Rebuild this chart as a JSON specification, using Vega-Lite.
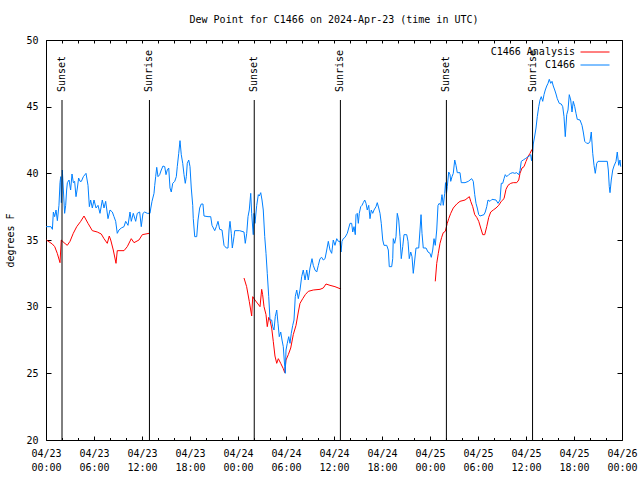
{
  "$schema": "https://vega.github.io/schema/vega-lite/v6.json",
  "width": 576,
  "height": 400,
  "autosize": {"type": "none"},
  "padding": {"left": 46, "top": 40, "right": 18, "bottom": 40},
  "title": {"text": "Dew Point for C1466 on 2024-Apr-23 (time in UTC)", "anchor": "middle", "offset": 2, "baseline": "alphabetic"},
  "resolve": {"axis": {"x": "independent", "y": "independent"}},
  "layer": [
    {
      "data": {"values": [
        {"seg":1,"hour":0.05,"dewpoint":35.0},{"seg":1,"hour":0.79,"dewpoint":34.7},{"seg":1,"hour":1.09,"dewpoint":34.5},{"seg":1,"hour":1.41,"dewpoint":34.0},{"seg":1,"hour":1.75,"dewpoint":33.3},{"seg":1,"hour":1.91,"dewpoint":35.0},{"seg":1,"hour":2.25,"dewpoint":34.8},{"seg":1,"hour":2.66,"dewpoint":34.6},{"seg":1,"hour":3.0,"dewpoint":34.9},{"seg":1,"hour":3.41,"dewpoint":35.5},{"seg":1,"hour":3.84,"dewpoint":36.0},{"seg":1,"hour":4.34,"dewpoint":36.4},{"seg":1,"hour":4.75,"dewpoint":36.8},{"seg":1,"hour":5.25,"dewpoint":36.25},{"seg":1,"hour":5.79,"dewpoint":35.7},{"seg":1,"hour":6.41,"dewpoint":35.6},{"seg":1,"hour":6.91,"dewpoint":35.45},{"seg":1,"hour":7.25,"dewpoint":35.1},{"seg":1,"hour":7.66,"dewpoint":34.75},{"seg":1,"hour":7.91,"dewpoint":35.3},{"seg":1,"hour":8.09,"dewpoint":35.0},{"seg":1,"hour":8.41,"dewpoint":34.25},{"seg":1,"hour":8.75,"dewpoint":33.25},{"seg":1,"hour":8.91,"dewpoint":34.2},{"seg":1,"hour":9.75,"dewpoint":34.2},{"seg":1,"hour":10.16,"dewpoint":34.5},{"seg":1,"hour":10.66,"dewpoint":35.1},{"seg":1,"hour":11.0,"dewpoint":34.8},{"seg":1,"hour":11.62,"dewpoint":35.0},{"seg":1,"hour":12.04,"dewpoint":35.4},{"seg":1,"hour":12.88,"dewpoint":35.5},
        {"seg":2,"hour":24.75,"dewpoint":32.15},{"seg":2,"hour":25.08,"dewpoint":31.5},{"seg":2,"hour":25.41,"dewpoint":30.4},{"seg":2,"hour":25.71,"dewpoint":29.3},{"seg":2,"hour":25.84,"dewpoint":30.75},{"seg":2,"hour":26.12,"dewpoint":30.5},{"seg":2,"hour":26.5,"dewpoint":30.2},{"seg":2,"hour":26.75,"dewpoint":30.0},{"seg":2,"hour":26.96,"dewpoint":31.3},{"seg":2,"hour":27.08,"dewpoint":30.9},{"seg":2,"hour":27.25,"dewpoint":30.0},{"seg":2,"hour":27.5,"dewpoint":29.4},{"seg":2,"hour":27.66,"dewpoint":28.5},{"seg":2,"hour":27.84,"dewpoint":29.2},{"seg":2,"hour":28.0,"dewpoint":29.0},{"seg":2,"hour":28.21,"dewpoint":28.4},{"seg":2,"hour":28.41,"dewpoint":27.4},{"seg":2,"hour":28.62,"dewpoint":26.3},{"seg":2,"hour":28.84,"dewpoint":25.75},{"seg":2,"hour":29.04,"dewpoint":26.1},{"seg":2,"hour":29.34,"dewpoint":25.75},{"seg":2,"hour":29.66,"dewpoint":25.35},{"seg":2,"hour":29.84,"dewpoint":25.05},{"seg":2,"hour":30.0,"dewpoint":26.0},{"seg":2,"hour":30.29,"dewpoint":26.4},{"seg":2,"hour":30.59,"dewpoint":26.9},{"seg":2,"hour":30.91,"dewpoint":27.9},{"seg":2,"hour":31.25,"dewpoint":28.6},{"seg":2,"hour":31.54,"dewpoint":29.6},{"seg":2,"hour":31.75,"dewpoint":30.25},{"seg":2,"hour":32.09,"dewpoint":30.6},{"seg":2,"hour":32.41,"dewpoint":30.9},{"seg":2,"hour":32.79,"dewpoint":31.15},{"seg":2,"hour":33.41,"dewpoint":31.25},{"seg":2,"hour":34.25,"dewpoint":31.3},{"seg":2,"hour":34.66,"dewpoint":31.4},{"seg":2,"hour":35.0,"dewpoint":31.7},{"seg":2,"hour":35.5,"dewpoint":31.6},{"seg":2,"hour":36.12,"dewpoint":31.5},{"seg":2,"hour":36.75,"dewpoint":31.35},{"seg":2,"hour":36.88,"dewpoint":31.35},
        {"seg":3,"hour":48.66,"dewpoint":31.9},{"seg":3,"hour":48.84,"dewpoint":33.25},{"seg":3,"hour":49.04,"dewpoint":34.0},{"seg":3,"hour":49.25,"dewpoint":34.75},{"seg":3,"hour":49.46,"dewpoint":35.2},{"seg":3,"hour":49.66,"dewpoint":35.55},{"seg":3,"hour":49.91,"dewpoint":35.65},{"seg":3,"hour":50.16,"dewpoint":36.25},{"seg":3,"hour":50.34,"dewpoint":36.6},{"seg":3,"hour":50.59,"dewpoint":37.0},{"seg":3,"hour":50.91,"dewpoint":37.4},{"seg":3,"hour":51.34,"dewpoint":37.7},{"seg":3,"hour":51.75,"dewpoint":37.9},{"seg":3,"hour":52.38,"dewpoint":38.0},{"seg":3,"hour":52.92,"dewpoint":38.25},{"seg":3,"hour":53.09,"dewpoint":37.9},{"seg":3,"hour":53.34,"dewpoint":37.5},{"seg":3,"hour":53.59,"dewpoint":36.9},{"seg":3,"hour":53.84,"dewpoint":36.7},{"seg":3,"hour":54.09,"dewpoint":36.4},{"seg":3,"hour":54.34,"dewpoint":35.9},{"seg":3,"hour":54.59,"dewpoint":35.4},{"seg":3,"hour":54.84,"dewpoint":35.4},{"seg":3,"hour":55.09,"dewpoint":36.0},{"seg":3,"hour":55.34,"dewpoint":36.7},{"seg":3,"hour":55.59,"dewpoint":37.1},{"seg":3,"hour":55.91,"dewpoint":37.25},{"seg":3,"hour":56.25,"dewpoint":37.4},{"seg":3,"hour":56.59,"dewpoint":37.6},{"seg":3,"hour":56.91,"dewpoint":37.9},{"seg":3,"hour":57.25,"dewpoint":38.1},{"seg":3,"hour":57.5,"dewpoint":38.8},{"seg":3,"hour":57.75,"dewpoint":39.1},{"seg":3,"hour":58.09,"dewpoint":39.25},{"seg":3,"hour":58.41,"dewpoint":39.3},{"seg":3,"hour":58.84,"dewpoint":39.3},{"seg":3,"hour":59.09,"dewpoint":39.5},{"seg":3,"hour":59.25,"dewpoint":40.0},{"seg":3,"hour":59.5,"dewpoint":40.4},{"seg":3,"hour":59.75,"dewpoint":40.5},{"seg":3,"hour":60.0,"dewpoint":40.9},{"seg":3,"hour":60.25,"dewpoint":41.25},{"seg":3,"hour":60.5,"dewpoint":41.5},{"seg":3,"hour":60.75,"dewpoint":41.8}
      ]},
      "mark": {"type": "line", "strokeWidth": 1, "clip": true},
      "encoding": {
        "x": {"field": "hour", "type": "quantitative", "scale": {"domain": [0, 72], "nice": false, "zero": false},
              "axis": {"orient": "bottom", "title": null, "values": [0,6,12,18,24,30,36,42,48,54,60,66,72], "tickSize": -4,
                       "labelExpr": "['04/' + (23 + floor(datum.value / 24)), (datum.value % 24 < 10 ? '0' : '') + (datum.value % 24) + ':00']",
                       "labelLineHeight": 14, "labelPadding": 12, "labelBaseline": "top", "labelFlush": false, "labelOverlap": false}},
        "y": {"field": "dewpoint", "type": "quantitative", "scale": {"domain": [20, 50], "nice": false, "zero": false},
              "axis": {"orient": "left", "title": "degrees F", "values": [20,25,30,35,40,45,50], "tickSize": -5, "labelPadding": 13,
                       "titleX": -36, "titleY": 200, "titleAlign": "center", "titleBaseline": "middle", "titleAngle": -90}},
        "color": {"datum": "C1466 Analysis", "type": "nominal", "scale": {"domain": ["C1466 Analysis", "C1466"], "range": ["#ff0000", "#0080ff"]}, "legend": {"title": null}},
        "detail": {"field": "seg", "type": "nominal"}
      }
    },
    {
      "data": {"values": [
        {"hour":0,"dewpoint":36.0},{"hour":0.62,"dewpoint":36.0},{"hour":0.8,"dewpoint":35.8},{"hour":0.92,"dewpoint":37.1},{"hour":1.08,"dewpoint":36.75},{"hour":1.25,"dewpoint":37.25},{"hour":1.42,"dewpoint":36.45},{"hour":1.62,"dewpoint":37.6},{"hour":1.75,"dewpoint":39.3},{"hour":1.84,"dewpoint":39.75},{"hour":1.92,"dewpoint":37.8},{"hour":2.04,"dewpoint":40.25},{"hour":2.17,"dewpoint":38.75},{"hour":2.33,"dewpoint":37.0},{"hour":2.46,"dewpoint":37.6},{"hour":2.58,"dewpoint":38.75},{"hour":2.67,"dewpoint":39.3},{"hour":2.88,"dewpoint":39.5},{"hour":3.08,"dewpoint":38.75},{"hour":3.25,"dewpoint":39.95},{"hour":3.42,"dewpoint":39.3},{"hour":3.58,"dewpoint":39.4},{"hour":3.75,"dewpoint":38.25},{"hour":3.92,"dewpoint":38.9},{"hour":4.08,"dewpoint":39.65},{"hour":4.25,"dewpoint":39.4},{"hour":4.42,"dewpoint":39.4},{"hour":4.67,"dewpoint":39.75},{"hour":5.0,"dewpoint":40.0},{"hour":5.25,"dewpoint":39.1},{"hour":5.42,"dewpoint":37.5},{"hour":5.58,"dewpoint":38.0},{"hour":5.79,"dewpoint":37.4},{"hour":6.0,"dewpoint":38.0},{"hour":6.25,"dewpoint":37.4},{"hour":6.5,"dewpoint":37.6},{"hour":6.75,"dewpoint":37.0},{"hour":7.04,"dewpoint":38.0},{"hour":7.25,"dewpoint":37.4},{"hour":7.46,"dewpoint":37.9},{"hour":7.75,"dewpoint":36.6},{"hour":8.0,"dewpoint":37.25},{"hour":8.29,"dewpoint":37.1},{"hour":8.5,"dewpoint":36.75},{"hour":8.71,"dewpoint":36.4},{"hour":8.91,"dewpoint":35.5},{"hour":9.12,"dewpoint":35.75},{"hour":9.41,"dewpoint":35.9},{"hour":9.75,"dewpoint":36.0},{"hour":9.96,"dewpoint":36.4},{"hour":10.25,"dewpoint":36.1},{"hour":10.5,"dewpoint":37.1},{"hour":10.66,"dewpoint":36.4},{"hour":10.91,"dewpoint":37.0},{"hour":11.21,"dewpoint":36.4},{"hour":11.41,"dewpoint":37.0},{"hour":11.71,"dewpoint":37.1},{"hour":11.91,"dewpoint":36.0},{"hour":12.12,"dewpoint":37.0},{"hour":12.34,"dewpoint":37.1},{"hour":12.66,"dewpoint":37.0},{"hour":13.0,"dewpoint":37.0},{"hour":13.1,"dewpoint":37.4},{"hour":13.25,"dewpoint":37.9},{"hour":13.5,"dewpoint":38.5},{"hour":13.59,"dewpoint":39.1},{"hour":13.71,"dewpoint":39.75},{"hour":13.84,"dewpoint":40.45},{"hour":14.0,"dewpoint":39.75},{"hour":14.21,"dewpoint":39.9},{"hour":14.41,"dewpoint":40.25},{"hour":14.62,"dewpoint":40.55},{"hour":14.84,"dewpoint":40.5},{"hour":15.0,"dewpoint":39.9},{"hour":15.16,"dewpoint":40.25},{"hour":15.34,"dewpoint":40.4},{"hour":15.5,"dewpoint":38.9},{"hour":15.66,"dewpoint":38.6},{"hour":15.84,"dewpoint":39.25},{"hour":16.09,"dewpoint":39.4},{"hour":16.29,"dewpoint":39.75},{"hour":16.41,"dewpoint":40.5},{"hour":16.59,"dewpoint":41.5},{"hour":16.75,"dewpoint":42.45},{"hour":16.91,"dewpoint":41.4},{"hour":17.09,"dewpoint":40.75},{"hour":17.25,"dewpoint":39.9},{"hour":17.41,"dewpoint":39.25},{"hour":17.54,"dewpoint":39.75},{"hour":17.66,"dewpoint":40.75},{"hour":17.84,"dewpoint":41.0},{"hour":18.0,"dewpoint":40.5},{"hour":18.16,"dewpoint":38.9},{"hour":18.34,"dewpoint":37.6},{"hour":18.41,"dewpoint":36.6},{"hour":18.59,"dewpoint":35.25},{"hour":18.84,"dewpoint":35.25},{"hour":19.0,"dewpoint":36.5},{"hour":19.21,"dewpoint":37.4},{"hour":19.41,"dewpoint":37.7},{"hour":19.62,"dewpoint":37.7},{"hour":19.75,"dewpoint":36.8},{"hour":20.25,"dewpoint":36.75},{"hour":20.59,"dewpoint":36.75},{"hour":20.75,"dewpoint":36.1},{"hour":21.09,"dewpoint":35.7},{"hour":21.29,"dewpoint":36.0},{"hour":21.5,"dewpoint":36.4},{"hour":21.71,"dewpoint":35.8},{"hour":22.0,"dewpoint":35.75},{"hour":22.25,"dewpoint":34.6},{"hour":22.54,"dewpoint":34.4},{"hour":22.75,"dewpoint":34.4},{"hour":22.88,"dewpoint":35.75},{"hour":23.0,"dewpoint":36.4},{"hour":23.16,"dewpoint":35.5},{"hour":23.29,"dewpoint":34.4},{"hour":23.5,"dewpoint":35.25},{"hour":23.59,"dewpoint":35.7},{"hour":24.21,"dewpoint":35.7},{"hour":24.75,"dewpoint":35.6},{"hour":24.91,"dewpoint":34.75},{"hour":25.09,"dewpoint":35.5},{"hour":25.25,"dewpoint":36.75},{"hour":25.41,"dewpoint":37.25},{"hour":25.59,"dewpoint":38.5},{"hour":25.71,"dewpoint":37.0},{"hour":25.84,"dewpoint":35.9},{"hour":25.91,"dewpoint":35.4},{"hour":26.0,"dewpoint":37.0},{"hour":26.12,"dewpoint":36.25},{"hour":26.34,"dewpoint":37.6},{"hour":26.54,"dewpoint":38.4},{"hour":26.66,"dewpoint":38.3},{"hour":26.84,"dewpoint":38.55},{"hour":27.0,"dewpoint":38.0},{"hour":27.16,"dewpoint":37.25},{"hour":27.34,"dewpoint":35.25},{"hour":27.5,"dewpoint":34.0},{"hour":27.66,"dewpoint":32.5},{"hour":27.84,"dewpoint":30.75},{"hour":28.0,"dewpoint":29.0},{"hour":28.21,"dewpoint":29.0},{"hour":28.34,"dewpoint":28.5},{"hour":28.5,"dewpoint":28.25},{"hour":28.66,"dewpoint":29.25},{"hour":28.84,"dewpoint":29.75},{"hour":29.0,"dewpoint":28.75},{"hour":29.16,"dewpoint":27.75},{"hour":29.34,"dewpoint":28.1},{"hour":29.5,"dewpoint":27.5},{"hour":29.66,"dewpoint":27.0},{"hour":29.84,"dewpoint":25.5},{"hour":29.91,"dewpoint":25.0},{"hour":30.0,"dewpoint":26.75},{"hour":30.16,"dewpoint":27.25},{"hour":30.34,"dewpoint":27.75},{"hour":30.5,"dewpoint":27.25},{"hour":30.66,"dewpoint":28.0},{"hour":30.84,"dewpoint":28.6},{"hour":31.0,"dewpoint":29.0},{"hour":31.16,"dewpoint":30.75},{"hour":31.34,"dewpoint":31.25},{"hour":31.54,"dewpoint":30.6},{"hour":31.75,"dewpoint":31.25},{"hour":31.96,"dewpoint":32.25},{"hour":32.16,"dewpoint":32.75},{"hour":32.38,"dewpoint":32.0},{"hour":32.59,"dewpoint":32.75},{"hour":32.79,"dewpoint":32.0},{"hour":33.0,"dewpoint":32.9},{"hour":33.25,"dewpoint":33.6},{"hour":33.41,"dewpoint":33.1},{"hour":33.62,"dewpoint":32.75},{"hour":33.84,"dewpoint":32.6},{"hour":34.04,"dewpoint":33.1},{"hour":34.25,"dewpoint":33.6},{"hour":34.46,"dewpoint":33.7},{"hour":34.66,"dewpoint":33.5},{"hour":34.88,"dewpoint":33.6},{"hour":35.09,"dewpoint":34.25},{"hour":35.29,"dewpoint":34.9},{"hour":35.5,"dewpoint":34.25},{"hour":35.71,"dewpoint":34.0},{"hour":35.91,"dewpoint":35.0},{"hour":36.12,"dewpoint":34.6},{"hour":36.34,"dewpoint":35.1},{"hour":36.54,"dewpoint":34.9},{"hour":36.75,"dewpoint":34.9},{"hour":36.88,"dewpoint":34.1},{"hour":37.0,"dewpoint":34.9},{"hour":37.16,"dewpoint":35.1},{"hour":37.38,"dewpoint":35.2},{"hour":37.66,"dewpoint":35.5},{"hour":37.84,"dewpoint":35.9},{"hour":38.0,"dewpoint":36.25},{"hour":38.21,"dewpoint":36.25},{"hour":38.34,"dewpoint":35.6},{"hour":38.5,"dewpoint":36.0},{"hour":38.66,"dewpoint":35.4},{"hour":38.75,"dewpoint":36.9},{"hour":38.91,"dewpoint":37.0},{"hour":39.04,"dewpoint":36.25},{"hour":39.16,"dewpoint":37.0},{"hour":39.34,"dewpoint":37.5},{"hour":39.5,"dewpoint":37.6},{"hour":39.66,"dewpoint":37.8},{"hour":39.84,"dewpoint":38.0},{"hour":40.0,"dewpoint":37.75},{"hour":40.16,"dewpoint":37.25},{"hour":40.34,"dewpoint":37.6},{"hour":40.5,"dewpoint":36.6},{"hour":40.66,"dewpoint":37.25},{"hour":40.84,"dewpoint":37.0},{"hour":41.0,"dewpoint":37.25},{"hour":41.25,"dewpoint":37.5},{"hour":41.41,"dewpoint":37.8},{"hour":41.59,"dewpoint":37.4},{"hour":41.75,"dewpoint":37.0},{"hour":41.91,"dewpoint":36.25},{"hour":42.09,"dewpoint":35.0},{"hour":42.25,"dewpoint":34.6},{"hour":42.59,"dewpoint":34.6},{"hour":42.79,"dewpoint":34.25},{"hour":42.91,"dewpoint":33.0},{"hour":43.21,"dewpoint":33.0},{"hour":43.34,"dewpoint":33.6},{"hour":43.41,"dewpoint":35.1},{"hour":43.59,"dewpoint":34.75},{"hour":43.75,"dewpoint":35.25},{"hour":43.91,"dewpoint":37.0},{"hour":44.09,"dewpoint":36.5},{"hour":44.25,"dewpoint":35.25},{"hour":44.41,"dewpoint":33.6},{"hour":44.59,"dewpoint":34.5},{"hour":44.75,"dewpoint":35.4},{"hour":45.09,"dewpoint":35.4},{"hour":45.25,"dewpoint":34.9},{"hour":45.41,"dewpoint":33.6},{"hour":45.59,"dewpoint":34.1},{"hour":45.75,"dewpoint":33.75},{"hour":45.91,"dewpoint":32.5},{"hour":46.09,"dewpoint":33.5},{"hour":46.25,"dewpoint":34.4},{"hour":46.59,"dewpoint":34.4},{"hour":46.75,"dewpoint":35.75},{"hour":46.88,"dewpoint":36.9},{"hour":47.0,"dewpoint":35.5},{"hour":47.16,"dewpoint":34.4},{"hour":47.5,"dewpoint":34.4},{"hour":47.75,"dewpoint":34.1},{"hour":48.0,"dewpoint":34.0},{"hour":48.16,"dewpoint":33.7},{"hour":48.34,"dewpoint":34.25},{"hour":48.5,"dewpoint":35.1},{"hour":48.66,"dewpoint":34.6},{"hour":48.84,"dewpoint":35.75},{"hour":49.0,"dewpoint":37.6},{"hour":49.16,"dewpoint":37.75},{"hour":49.34,"dewpoint":37.6},{"hour":49.46,"dewpoint":38.25},{"hour":49.5,"dewpoint":38.4},{"hour":49.66,"dewpoint":37.6},{"hour":49.84,"dewpoint":38.5},{"hour":49.94,"dewpoint":39.3},{"hour":50.06,"dewpoint":38.5},{"hour":50.16,"dewpoint":39.0},{"hour":50.34,"dewpoint":40.1},{"hour":50.5,"dewpoint":39.9},{"hour":50.59,"dewpoint":39.4},{"hour":50.75,"dewpoint":39.75},{"hour":50.91,"dewpoint":40.0},{"hour":51.09,"dewpoint":41.0},{"hour":51.25,"dewpoint":40.6},{"hour":51.41,"dewpoint":40.05},{"hour":51.75,"dewpoint":40.05},{"hour":51.91,"dewpoint":39.3},{"hour":52.38,"dewpoint":39.3},{"hour":52.79,"dewpoint":39.4},{"hour":53.21,"dewpoint":39.6},{"hour":53.41,"dewpoint":39.4},{"hour":53.59,"dewpoint":38.4},{"hour":53.75,"dewpoint":37.75},{"hour":53.91,"dewpoint":37.4},{"hour":54.09,"dewpoint":36.9},{"hour":54.25,"dewpoint":36.8},{"hour":54.75,"dewpoint":36.9},{"hour":54.91,"dewpoint":37.1},{"hour":55.09,"dewpoint":37.5},{"hour":55.25,"dewpoint":38.0},{"hour":55.5,"dewpoint":37.9},{"hour":55.75,"dewpoint":38.05},{"hour":56.25,"dewpoint":38.0},{"hour":56.5,"dewpoint":37.75},{"hour":56.75,"dewpoint":38.0},{"hour":56.91,"dewpoint":39.25},{"hour":57.09,"dewpoint":39.25},{"hour":57.25,"dewpoint":39.6},{"hour":57.41,"dewpoint":39.9},{"hour":57.59,"dewpoint":39.75},{"hour":57.84,"dewpoint":39.9},{"hour":58.09,"dewpoint":40.0},{"hour":58.34,"dewpoint":40.05},{"hour":58.59,"dewpoint":40.0},{"hour":58.84,"dewpoint":40.05},{"hour":59.09,"dewpoint":39.9},{"hour":59.25,"dewpoint":40.2},{"hour":59.41,"dewpoint":40.9},{"hour":59.66,"dewpoint":41.0},{"hour":59.91,"dewpoint":41.1},{"hour":60.16,"dewpoint":41.2},{"hour":60.41,"dewpoint":41.3},{"hour":60.59,"dewpoint":41.4},{"hour":60.69,"dewpoint":40.95},{"hour":60.84,"dewpoint":41.6},{"hour":60.91,"dewpoint":42.2},{"hour":61.09,"dewpoint":42.8},{"hour":61.25,"dewpoint":43.4},{"hour":61.41,"dewpoint":44.25},{"hour":61.59,"dewpoint":45.0},{"hour":61.75,"dewpoint":45.5},{"hour":61.91,"dewpoint":45.75},{"hour":62.09,"dewpoint":45.4},{"hour":62.25,"dewpoint":45.9},{"hour":62.41,"dewpoint":46.25},{"hour":62.59,"dewpoint":46.55},{"hour":62.75,"dewpoint":46.75},{"hour":62.91,"dewpoint":47.05},{"hour":63.09,"dewpoint":46.75},{"hour":63.25,"dewpoint":46.9},{"hour":63.41,"dewpoint":46.55},{"hour":63.59,"dewpoint":46.25},{"hour":63.75,"dewpoint":45.95},{"hour":63.91,"dewpoint":45.6},{"hour":64.16,"dewpoint":45.25},{"hour":64.41,"dewpoint":45.2},{"hour":64.59,"dewpoint":45.0},{"hour":64.75,"dewpoint":44.25},{"hour":64.91,"dewpoint":42.75},{"hour":65.09,"dewpoint":44.4},{"hour":65.25,"dewpoint":44.75},{"hour":65.41,"dewpoint":45.9},{"hour":65.59,"dewpoint":45.5},{"hour":65.75,"dewpoint":44.6},{"hour":65.91,"dewpoint":45.4},{"hour":66.09,"dewpoint":45.0},{"hour":66.25,"dewpoint":44.5},{"hour":66.41,"dewpoint":44.05},{"hour":66.75,"dewpoint":44.0},{"hour":67.0,"dewpoint":43.6},{"hour":67.16,"dewpoint":43.1},{"hour":67.34,"dewpoint":42.4},{"hour":67.59,"dewpoint":42.25},{"hour":67.84,"dewpoint":42.25},{"hour":68.0,"dewpoint":42.4},{"hour":68.16,"dewpoint":43.1},{"hour":68.34,"dewpoint":41.5},{"hour":68.5,"dewpoint":40.6},{"hour":68.66,"dewpoint":40.0},{"hour":68.84,"dewpoint":40.75},{"hour":69.0,"dewpoint":40.9},{"hour":70.16,"dewpoint":40.9},{"hour":70.29,"dewpoint":40.25},{"hour":70.41,"dewpoint":39.0},{"hour":70.5,"dewpoint":38.55},{"hour":70.66,"dewpoint":39.5},{"hour":70.84,"dewpoint":40.25},{"hour":71.0,"dewpoint":40.55},{"hour":71.25,"dewpoint":40.9},{"hour":71.41,"dewpoint":41.6},{"hour":71.59,"dewpoint":40.6},{"hour":71.75,"dewpoint":41.0},{"hour":71.84,"dewpoint":40.5}
      ]},
      "mark": {"type": "line", "strokeWidth": 1, "clip": true},
      "encoding": {
        "x": {"field": "hour", "type": "quantitative",
              "axis": {"orient": "bottom", "title": null, "values": [2,4,8,10,14,16,20,22,26,28,32,34,38,40,44,46,50,52,56,58,62,64,68,70], "tickSize": -2.5, "labels": false}},
        "y": {"field": "dewpoint", "type": "quantitative",
              "axis": {"orient": "right", "title": null, "values": [20,25,30,35,40,45,50], "tickSize": -5, "labels": false}},
        "color": {"datum": "C1466", "type": "nominal"}
      }
    },
    {
      "data": {"name": "events", "values": [
        {"hour": 2.0, "event": "Sunset"},
        {"hour": 12.93, "event": "Sunrise"},
        {"hour": 26.03, "event": "Sunset"},
        {"hour": 36.8, "event": "Sunrise"},
        {"hour": 50.05, "event": "Sunset"},
        {"hour": 60.82, "event": "Sunrise"}
      ]},
      "mark": {"type": "rule", "color": "black", "strokeWidth": 1},
      "encoding": {
        "x": {"field": "hour", "type": "quantitative",
              "axis": {"orient": "top", "title": null, "values": [0,2,4,6,8,10,12,14,16,18,20,22,24,26,28,30,32,34,36,38,40,42,44,46,48,50,52,54,56,58,60,62,64,66,68,70,72], "tickSize": -3, "labels": false}},
        "y": {"datum": 20, "type": "quantitative", "axis": null},
        "y2": {"datum": 45.5}
      }
    },
    {
      "data": {"name": "events"},
      "mark": {"type": "text", "angle": 270, "align": "left", "baseline": "middle", "font": "DejaVu Sans Mono", "fontSize": 10, "color": "black"},
      "encoding": {
        "x": {"field": "hour", "type": "quantitative", "axis": null},
        "y": {"datum": 46.1, "type": "quantitative", "axis": null},
        "text": {"field": "event", "type": "nominal"}
      }
    }
  ],
  "config": {
    "view": {"stroke": "black", "strokeWidth": 1},
    "font": "DejaVu Sans Mono",
    "axis": {"labelFont": "DejaVu Sans Mono", "labelFontSize": 10, "labelColor": "black", "tickColor": "black", "tickWidth": 1, "domain": false, "grid": false,
             "titleFont": "DejaVu Sans Mono", "titleFontSize": 10, "titleFontWeight": "normal", "titleColor": "black"},
    "legend": {"orient": "none", "legendX": 543.5, "legendY": 6.5, "padding": 0, "symbolType": "M-2.9,0H2.9", "symbolSize": 100, "symbolStrokeWidth": 1,
               "labelFont": "DejaVu Sans Mono", "labelFontSize": 10, "labelColor": "black", "labelAlign": "right", "labelOffset": -25.5, "rowPadding": 2},
    "title": {"font": "DejaVu Sans Mono", "fontSize": 10, "fontWeight": "normal", "color": "black"}
  }
}
